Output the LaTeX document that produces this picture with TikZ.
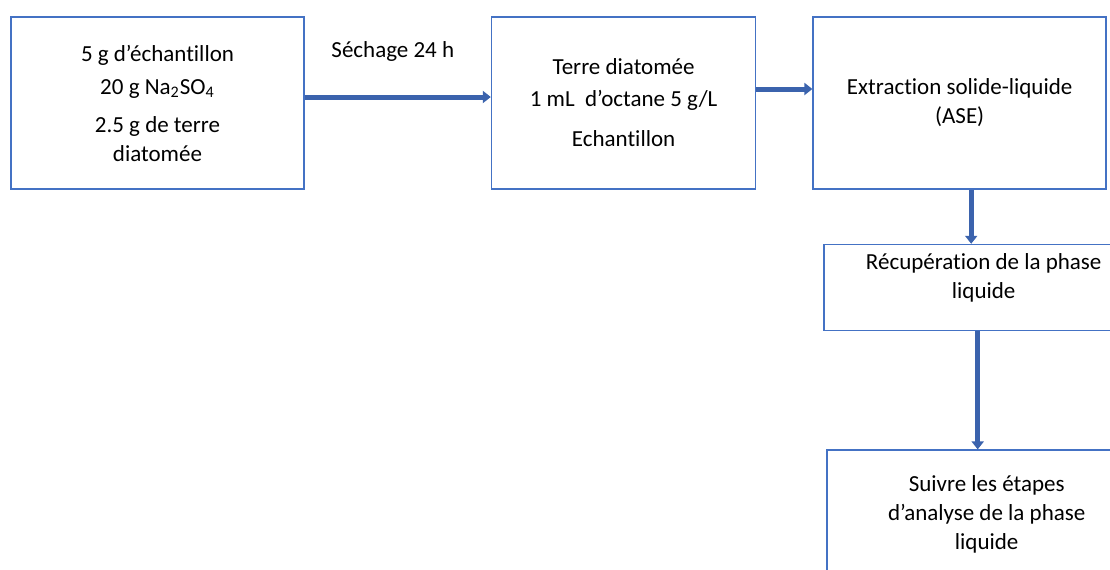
\documentclass[tikz,border=0pt]{standalone}
\usepackage{fontspec}
\setmainfont{Carlito}[Ligatures=NoCommon]
\usepackage{xcolor}
\usepackage{tikz}
\usetikzlibrary{positioning,arrows.meta}
\definecolor{cadre}{HTML}{4472C4}
\definecolor{fleche}{HTML}{3B63AD}

\begin{document}
\begin{tikzpicture}[
    x=0.5pt, y=-0.5pt,
    font=\fontsize{11.5}{14.5}\selectfont,
    box/.style={draw=cadre, line width=0.8pt, rectangle, align=center, minimum width=146.5pt, minimum height=86pt},
    flow/.style={draw=fleche, line width=2.5pt, -{Triangle[length=4pt, width=6pt]}}
  ]
    % Cadre de la figure
    \useasboundingbox (0,0) rectangle (1110,569);
    \clip (0,0) rectangle (1110,569);

    % Ligne du haut
    \node[box] (echant) at (157.5,103) {5 g d’échantillon \\[2pt] 20 g Na\textsubscript{2}SO\textsubscript{4} \\[4.5pt] 2.5 g de terre \\ diatomée};
    \node[box, minimum width=132pt, right=93pt of echant] (cellule) {Terre diatomée \\[1.5pt] 1 mL\ \ d’octane 5 g/L \\[5.5pt] Echantillon};
    \node[box, right=28pt of cellule] (ase) {Extraction solide-liquide \\ (ASE)};

    % Colonne de droite
    \node[box, minimum width=160pt, minimum height=43pt, text depth=12pt, below=27pt of ase, xshift=12pt] (recup) {Récupération de la phase \\ liquide};
    \node[box, minimum width=160pt, minimum height=64pt, below=59pt of recup, xshift=1.5pt] (analyse) {Suivre les étapes \\ d’analyse de la phase \\ liquide};

    % Flèches
    \coordinate (s1) at ([yshift=3pt]echant.east);
    \draw[flow] (s1) -- (s1 -| cellule.west) node[midway, xshift=-2.5pt, yshift=23pt] (sechage) {Séchage 24 h};
    \coordinate (s2) at ([yshift=7pt]cellule.east);
    \draw[flow] (s2) -- (s2 -| ase.west);
    \coordinate (s3) at ([xshift=5.75pt]ase.south);
    \draw[flow] (s3) -- (s3 |- recup.north);
    \coordinate (s4) at ([xshift=-3pt]recup.south);
    \draw[flow] (s4) -- (s4 |- analyse.north);

  \end{tikzpicture}
\end{document}
